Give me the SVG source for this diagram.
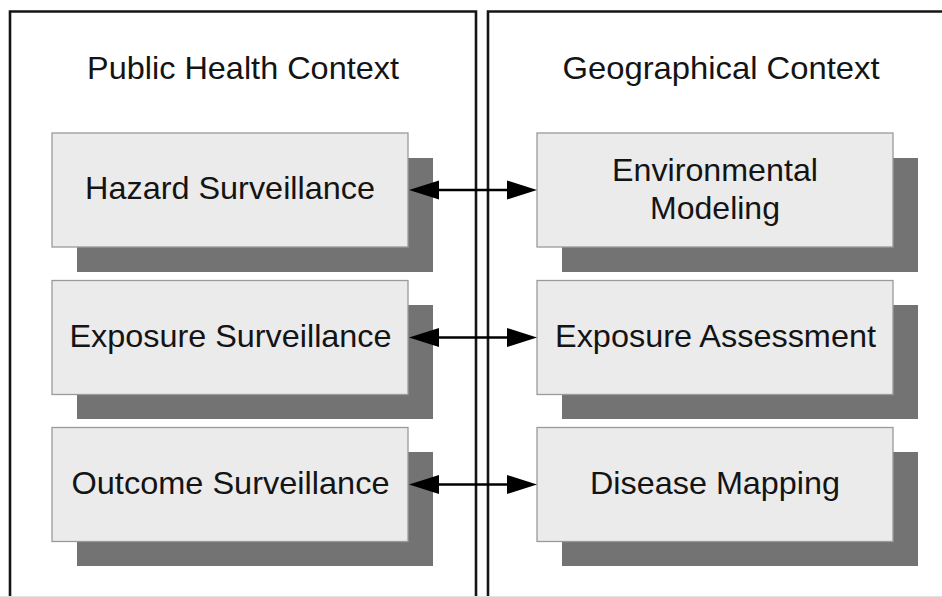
<svg xmlns="http://www.w3.org/2000/svg" width="942" height="597" viewBox="0 0 942 597">
  <style>
    .panel { fill: none; stroke: #151515; stroke-width: 2.6; }
    .shadow { fill: #737373; }
    .box { fill: #ebebeb; stroke: #9a9a9a; stroke-width: 1.3; }
    .label { font-family: "Liberation Sans", Arial, sans-serif; font-size: 32px; fill: #141414; text-anchor: middle; }
    .link { stroke: #000; stroke-width: 2.6; fill: none; }
    .head { fill: #000; }
  </style>

  <rect width="942" height="597" fill="#ffffff"/>

  <!-- context panels -->
  <g id="panel-public-health">
    <path class="panel" d="M10,600 V11.5 H476 V600"/>
    <text class="label" x="243" y="79" textLength="312" lengthAdjust="spacingAndGlyphs">Public Health Context</text>
  </g>
  <g id="panel-geographical">
    <path class="panel" d="M488,600 V11.5 H946"/>
    <text class="label" x="721" y="79" textLength="317" lengthAdjust="spacingAndGlyphs">Geographical Context</text>
  </g>
  <line x1="0" y1="596.5" x2="942" y2="596.5" stroke="#e2e2e2" stroke-width="1"/>

  <!-- public health nodes -->
  <g id="hazard-surveillance">
    <rect class="shadow" x="77" y="158" width="356" height="114"/>
    <rect class="box" x="52" y="133" width="356" height="114"/>
    <text class="label" x="230" y="199" textLength="290" lengthAdjust="spacingAndGlyphs">Hazard Surveillance</text>
  </g>
  <g id="exposure-surveillance">
    <rect class="shadow" x="77" y="305" width="356" height="114"/>
    <rect class="box" x="52" y="280.5" width="356" height="114"/>
    <text class="label" x="230.5" y="347" textLength="322" lengthAdjust="spacingAndGlyphs">Exposure Surveillance</text>
  </g>
  <g id="outcome-surveillance">
    <rect class="shadow" x="77" y="452" width="356" height="114"/>
    <rect class="box" x="52" y="427.5" width="356" height="114"/>
    <text class="label" x="230.5" y="494" textLength="318" lengthAdjust="spacingAndGlyphs">Outcome Surveillance</text>
  </g>

  <!-- geographical nodes -->
  <g id="environmental-modeling">
    <rect class="shadow" x="562" y="158" width="356" height="114"/>
    <rect class="box" x="537" y="133" width="356" height="114"/>
    <text class="label" x="715" y="181" textLength="206" lengthAdjust="spacingAndGlyphs">Environmental</text>
    <text class="label" x="715" y="219" textLength="130" lengthAdjust="spacingAndGlyphs">Modeling</text>
  </g>
  <g id="exposure-assessment">
    <rect class="shadow" x="562" y="305" width="356" height="114"/>
    <rect class="box" x="537" y="280.5" width="356" height="114"/>
    <text class="label" x="715.5" y="347" textLength="321" lengthAdjust="spacingAndGlyphs">Exposure Assessment</text>
  </g>
  <g id="disease-mapping">
    <rect class="shadow" x="562" y="452" width="356" height="114"/>
    <rect class="box" x="537" y="427.5" width="356" height="114"/>
    <text class="label" x="715" y="494" textLength="250" lengthAdjust="spacingAndGlyphs">Disease Mapping</text>
  </g>

  <!-- two-way connectors -->
  <g id="connectors">
    <line class="link" x1="435" y1="190" x2="511" y2="190"/>
    <polygon class="head" points="409,190 439,180.5 439,199.5"/>
    <polygon class="head" points="537,190 507,180.5 507,199.5"/>

    <line class="link" x1="435" y1="337.5" x2="511" y2="337.5"/>
    <polygon class="head" points="409,337.5 439,328 439,347"/>
    <polygon class="head" points="537,337.5 507,328 507,347"/>

    <line class="link" x1="435" y1="484.5" x2="511" y2="484.5"/>
    <polygon class="head" points="409,484.5 439,475 439,494"/>
    <polygon class="head" points="537,484.5 507,475 507,494"/>
  </g>
</svg>
